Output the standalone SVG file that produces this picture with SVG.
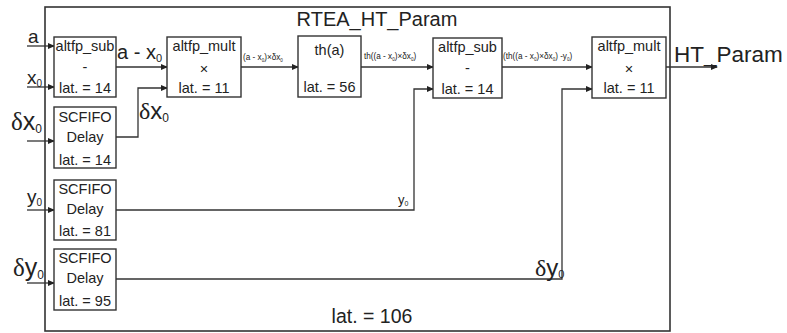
<svg xmlns="http://www.w3.org/2000/svg" width="787" height="333" viewBox="0 0 787 333">
<defs>
<marker id="ah" markerWidth="7" markerHeight="6" refX="6" refY="3" orient="auto" markerUnits="userSpaceOnUse">
<path d="M0,0 L7,3 L0,6 Z" fill="#222"/>
</marker>
<style>
.box{fill:#fff;stroke:#333;stroke-width:1.4}
.outer{fill:#fff;stroke:#333;stroke-width:1.6}
.w{fill:none;stroke:#333;stroke-width:1.3}
.t{font-family:"Liberation Sans",Arial,sans-serif;fill:#222;text-anchor:middle;font-size:14.5px}
.lbl{font-family:"Liberation Sans",Arial,sans-serif;fill:#222}
.s{font-size:8.2px}
.g{font-family:"Liberation Serif","Times New Roman",serif}
</style>
</defs>
<rect width="787" height="333" fill="#fff"/>
<g id="outer">
<rect class="outer" x="45" y="7" width="625" height="324"/>
<text class="lbl" x="377" y="26" font-size="20" text-anchor="middle">RTEA_HT_Param</text>
<text class="lbl" x="372" y="323" font-size="19.5" text-anchor="middle">lat. = 106</text>
</g>
<g id="connectors">
<line class="w" x1="27" y1="46" x2="54" y2="46" marker-end="url(#ah)"/>
<line class="w" x1="27" y1="87" x2="54" y2="87" marker-end="url(#ah)"/>
<line class="w" x1="27" y1="141" x2="54" y2="141" marker-end="url(#ah)"/>
<line class="w" x1="27" y1="210" x2="54" y2="210" marker-end="url(#ah)"/>
<line class="w" x1="27" y1="283" x2="54" y2="283" marker-end="url(#ah)"/>
<line class="w" x1="116" y1="67" x2="167" y2="67" marker-end="url(#ah)"/>
<polyline class="w" points="116,137 138,137 138,88 167,88" marker-end="url(#ah)"/>
<line class="w" x1="241" y1="67" x2="298" y2="67" marker-end="url(#ah)"/>
<line class="w" x1="361" y1="67" x2="433" y2="67" marker-end="url(#ah)"/>
<polyline class="w" points="116,210 414,210 414,89 433,89" marker-end="url(#ah)"/>
<line class="w" x1="502" y1="67" x2="592" y2="67" marker-end="url(#ah)"/>
<polyline class="w" points="116,279 562,279 562,89 592,89" marker-end="url(#ah)"/>
<line class="w" x1="666" y1="67" x2="717" y2="67" marker-end="url(#ah)"/>
</g>
<g id="labels">
<text class="lbl" x="28" y="43" font-size="19">a</text>
<text class="lbl" x="27" y="84" font-size="19">x<tspan font-size="10" dy="3">0</tspan></text>
<text class="lbl" x="11" y="130" font-size="25"><tspan class="g">δ</tspan>x<tspan font-size="12" dy="3">0</tspan></text>
<text class="lbl" x="27" y="203" font-size="19">y<tspan font-size="10" dy="3">0</tspan></text>
<text class="lbl" x="13" y="276" font-size="25"><tspan class="g">δ</tspan>y<tspan font-size="12" dy="3">0</tspan></text>
<text class="lbl" x="117" y="59" font-size="20">a - x<tspan font-size="11" dy="3">0</tspan></text>
<text class="lbl" x="139" y="119" font-size="24"><tspan class="g">δ</tspan>x<tspan font-size="12" dy="3">0</tspan></text>
<text class="lbl s" x="243" y="60">(a - x<tspan font-size="4.5" dy="1.5">0</tspan><tspan dy="-1.5">)×δx</tspan><tspan font-size="4.5" dy="1.5">0</tspan></text>
<text class="lbl s" x="364" y="59">th((a - x<tspan font-size="4.5" dy="1.5">0</tspan><tspan dy="-1.5">)×δx</tspan><tspan font-size="4.5" dy="1.5">0</tspan><tspan dy="-1.5">)</tspan></text>
<text class="lbl s" x="503" y="59">(th((a - x<tspan font-size="4.5" dy="1.5">0</tspan><tspan dy="-1.5">)×δx</tspan><tspan font-size="4.5" dy="1.5">0</tspan><tspan dy="-1.5">) -y</tspan><tspan font-size="4.5" dy="1.5">0</tspan><tspan dy="-1.5">)</tspan></text>
<text class="lbl" x="398" y="204" font-size="13">y<tspan font-size="7" dy="2">0</tspan></text>
<text class="lbl" x="535" y="276" font-size="24"><tspan class="g">δ</tspan>y<tspan font-size="11" dy="2">0</tspan></text>
<text class="lbl" x="674" y="62" font-size="22.5">HT_Param</text>
</g>
<g id="sub1">
<rect class="box" x="54" y="37" width="62" height="60"/>
<text class="t" x="85" y="51">altfp_sub</text>
<text class="t" x="85" y="72">-</text>
<text class="t" x="85" y="93">lat. = 14</text>
</g>
<g id="mult1">
<rect class="box" x="167" y="37" width="74" height="60"/>
<text class="t" x="204" y="51">altfp_mult</text>
<text class="t" x="204" y="74">×</text>
<text class="t" x="204" y="93">lat. = 11</text>
</g>
<g id="th">
<rect class="box" x="298" y="36" width="63" height="61"/>
<text class="t" x="329.5" y="55">th(a)</text>
<text class="t" x="329.5" y="92">lat. = 56</text>
</g>
<g id="sub2">
<rect class="box" x="433" y="38" width="69" height="60"/>
<text class="t" x="467.5" y="52">altfp_sub</text>
<text class="t" x="467.5" y="73">-</text>
<text class="t" x="467.5" y="94">lat. = 14</text>
</g>
<g id="mult2">
<rect class="box" x="592" y="37" width="74" height="61"/>
<text class="t" x="629" y="51">altfp_mult</text>
<text class="t" x="629" y="74">×</text>
<text class="t" x="629" y="93">lat. = 11</text>
</g>
<g id="fifo1">
<rect class="box" x="54" y="107" width="62" height="61"/>
<text class="t" x="85" y="122">SCFIFO</text>
<text class="t" x="85" y="142">Delay</text>
<text class="t" x="85" y="165">lat. = 14</text>
</g>
<g id="fifo2">
<rect class="box" x="54" y="180" width="62" height="60"/>
<text class="t" x="85" y="194">SCFIFO</text>
<text class="t" x="85" y="214">Delay</text>
<text class="t" x="85" y="236">lat. = 81</text>
</g>
<g id="fifo3">
<rect class="box" x="54" y="249" width="62" height="61"/>
<text class="t" x="85" y="263">SCFIFO</text>
<text class="t" x="85" y="283">Delay</text>
<text class="t" x="85" y="306">lat. = 95</text>
</g>
</svg>
